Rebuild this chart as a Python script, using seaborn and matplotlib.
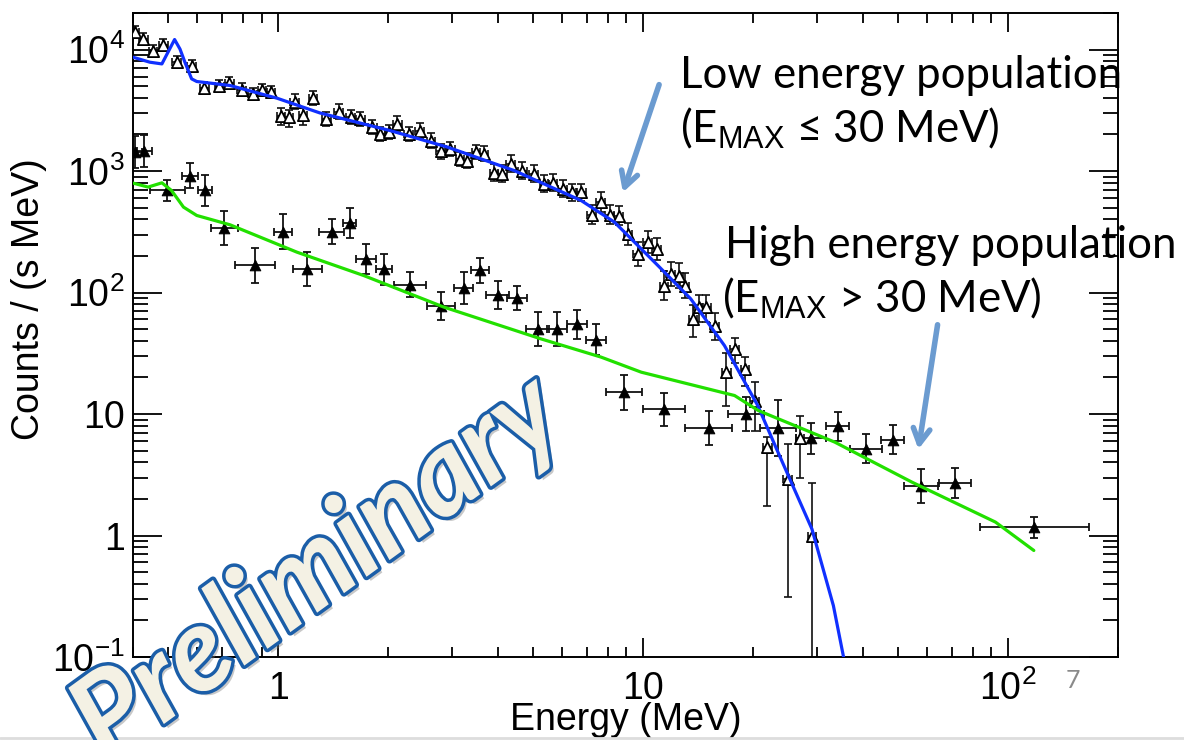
import numpy as np
import matplotlib
matplotlib.use('Agg')
import matplotlib.pyplot as plt
import matplotlib.patheffects as pe
from matplotlib.lines import Line2D
from matplotlib.ticker import LogLocator, NullFormatter
import seaborn as sns

# Low energy population (open triangles)
low_E = [0.405, 0.427, 0.454, 0.484, 0.527, 0.579, 0.627, 0.69, 0.735, 0.795, 0.852, 0.902,
         0.955, 1.017, 1.067, 1.11, 1.17, 1.245, 1.355, 1.465, 1.58, 1.68, 1.81, 1.905,
         2.01, 2.12, 2.28, 2.44, 2.62, 2.79, 2.96, 3.15, 3.30, 3.48, 3.66, 3.90, 4.11,
         4.33, 4.67, 5.01, 5.36, 5.65, 6.02, 6.37, 6.76, 7.23, 7.64, 8.09, 8.56,
         9.08, 9.67, 10.3, 10.9, 11.4, 11.9, 12.5, 13.0, 13.7, 14.2, 14.9, 15.7, 16.9,
         17.8, 19.0, 20.2, 21.9, 24.9, 26.9, 29.0]
low_C = [13900, 12200, 9800, 10900, 7870, 7300, 4810, 5000, 5320, 4690, 4320, 4660,
         4510, 2860, 2780, 3730, 2900, 3980, 2690, 3090, 2780, 2690, 2300, 2020,
         2090, 2450, 2020, 2150, 1780, 1450, 1520, 1260, 1220, 1430, 1390, 966, 948,
         1150, 1010, 948, 785, 800, 714, 670, 670, 437, 555, 437, 430,
         304, 208, 260, 229, 114, 143, 138, 114, 60.8, 76, 76, 53.5, 22.1,
         34.4, 23.5, 12.9, 5.4, 2.93, 6.34, 1.0]
# error bar extents in decades (down / up)
low_dn = [0.05, 0.05, 0.05, 0.05, 0.05, 0.05, 0.05, 0.05, 0.05, 0.05, 0.05, 0.05,
          0.05, 0.08, 0.08, 0.06, 0.08, 0.06, 0.06, 0.06, 0.06, 0.06, 0.06, 0.06,
          0.06, 0.06, 0.06, 0.06, 0.06, 0.06, 0.06, 0.06, 0.06, 0.06, 0.06, 0.07, 0.07,
          0.07, 0.07, 0.07, 0.07, 0.07, 0.07, 0.07, 0.07, 0.08, 0.08, 0.08, 0.08,
          0.09, 0.10, 0.09, 0.09, 0.12, 0.10, 0.10, 0.10, 0.15, 0.12, 0.12, 0.12, 0.28,
          0.12, 0.14, 0.25, 0.49, 0.97, 0.33, 3.0]
low_up = [0.05, 0.05, 0.05, 0.05, 0.05, 0.05, 0.05, 0.05, 0.05, 0.05, 0.05, 0.05,
          0.05, 0.06, 0.06, 0.06, 0.06, 0.06, 0.06, 0.06, 0.06, 0.06, 0.06, 0.06,
          0.06, 0.06, 0.06, 0.06, 0.06, 0.06, 0.06, 0.06, 0.06, 0.06, 0.06, 0.07, 0.07,
          0.07, 0.07, 0.07, 0.07, 0.07, 0.07, 0.07, 0.07, 0.08, 0.08, 0.08, 0.08,
          0.09, 0.10, 0.09, 0.09, 0.12, 0.10, 0.10, 0.10, 0.11, 0.10, 0.10, 0.10, 0.16,
          0.09, 0.10, 0.15, 0.08, 0.29, 0.18, 0.43]

# High energy population (filled triangles)
high_E = [0.405, 0.43, 0.496, 0.573, 0.63, 0.712, 0.865, 1.03, 1.20, 1.40, 1.57, 1.74,
          1.95, 2.30, 2.79, 3.22, 3.57, 3.99, 4.51, 5.14, 5.80, 6.59, 7.43, 8.85, 11.4,
          15.1, 19.1, 23.4, 28.8, 34.1, 40.8, 48.3, 57.8, 71.6, 118]
high_C = [1430, 1470, 692, 918, 692, 339, 167, 318, 155, 318, 373, 189,
          155, 116, 78, 109, 152, 96, 90, 50, 50, 55, 41, 15.1, 10.9,
          7.65, 10.0, 7.7, 6.3, 7.95, 5.17, 6.17, 2.58, 2.70, 1.17]
high_xw = [0.02, 0.02, 0.048, 0.023, 0.02, 0.037, 0.055, 0.024, 0.04, 0.035, 0.018, 0.027,
           0.023, 0.044, 0.039, 0.025, 0.024, 0.031, 0.027, 0.032, 0.027, 0.027, 0.027, 0.05, 0.057,
           0.065, 0.05, 0.05, 0.042, 0.032, 0.043, 0.032, 0.046, 0.044, 0.15]
high_yw = [0.13, 0.13, 0.09, 0.1, 0.125, 0.137, 0.144, 0.14, 0.14, 0.1, 0.125, 0.125,
           0.13, 0.105, 0.115, 0.13, 0.1, 0.115, 0.1, 0.14, 0.14, 0.12, 0.13, 0.144, 0.137,
           0.14, 0.137, 0.23, 0.13, 0.12, 0.12, 0.12, 0.14, 0.126, 0.087]

# Fit curves
blue_E = [0.40, 0.445, 0.48, 0.52, 0.538, 0.555, 0.579, 0.598, 0.738, 0.992, 1.30, 2.03,
          2.91, 4.43, 6.76, 8.34, 10.97, 13.5, 16.7, 20.6, 23.4, 29.0, 33.2, 35.4]
blue_C = [8650, 7870, 7620, 12100, 10100, 7870, 5740, 5460, 5060, 3980, 3010, 2150,
          1574, 1010, 572, 380, 167, 88.7, 36.6, 11.75, 4.86, 1.13, 0.265, 0.1]
green_E = [0.40, 0.44, 0.48, 0.51, 0.55, 0.598, 0.738, 1.125, 1.715, 2.84, 5.24, 7.67,
           9.88, 17.8, 20.65, 33.5, 54.5, 92.3, 117.6]
green_C = [796, 738, 800, 692, 505, 431, 361, 215, 138, 76, 41.6, 29.4,
           22.1, 14.2, 10.7, 5.87, 2.75, 1.29, 0.753]

x_ticks = [1, 10, 100]
x_labels = ['1', '10', '$10^{2}$']
y_ticks = [0.1, 1, 10, 100, 1000, 10000]
y_labels = ['$10^{-1}$', '1', '10', '$10^{2}$', '$10^{3}$', '$10^{4}$']

sns.set_theme(style='ticks')
plt.rcParams['font.family'] = ['Liberation Sans', 'DejaVu Sans']
plt.rcParams['mathtext.fontset'] = 'custom'
plt.rcParams['mathtext.rm'] = 'Liberation Sans'
plt.rcParams['mathtext.default'] = 'regular'

fig = plt.figure(figsize=(11.84, 7.4), dpi=100)
ax = fig.add_axes([133 / 1184, 1 - 657 / 740, 985 / 1184, 644 / 740])
ax.set_xscale('log')
ax.set_yscale('log')


def asym(vals, dn, up):
    v = np.array(vals)
    return [v - v * 10 ** (-np.array(dn)), v * 10 ** np.array(up) - v]


# error bars
ax.errorbar(low_E, low_C, yerr=asym(low_C, low_dn, low_up),
            xerr=asym(low_E, [0.012] * len(low_E), [0.012] * len(low_E)),
            fmt='none', ecolor='#111111', elinewidth=1.2, capsize=3, capthick=1.2, zorder=2)
ax.errorbar(high_E, high_C, yerr=asym(high_C, high_yw, high_yw),
            xerr=asym(high_E, high_xw, high_xw),
            fmt='none', ecolor='#111111', elinewidth=1.3, capsize=3, capthick=1.3, zorder=2)

# markers
sns.scatterplot(x=low_E, y=low_C, marker='^', color='white', edgecolor='black',
                linewidth=1.3, s=65, ax=ax, zorder=3)
sns.scatterplot(x=high_E, y=high_C, marker='^', color='black', edgecolor='black',
                s=60, ax=ax, zorder=3)

# fit curves
sns.lineplot(x=blue_E, y=blue_C, color='#1030ff', lw=2.3, sort=False, estimator=None, ax=ax, zorder=4)
sns.lineplot(x=green_E, y=green_C, color='#22e000', lw=2.3, sort=False, estimator=None, ax=ax, zorder=4)

ax.set_xlim(0.4, 200)
ax.set_ylim(0.1, 2e4)
ax.set_xticks(x_ticks)
ax.set_xticklabels(x_labels)
ax.set_yticks(y_ticks)
ax.set_yticklabels(y_labels)
ax.xaxis.set_minor_locator(LogLocator(base=10, subs=np.arange(2, 10), numticks=20))
ax.yaxis.set_minor_locator(LogLocator(base=10, subs=np.arange(2, 10), numticks=20))
ax.xaxis.set_minor_formatter(NullFormatter())
ax.yaxis.set_minor_formatter(NullFormatter())

ax.tick_params(which='both', direction='in', top=True, right=True, color='black', width=1.3,
               labelsize=27, labelcolor='black')
ax.tick_params(axis='y', which='major', length=21, pad=6)
ax.tick_params(axis='y', which='minor', length=10.5)
ax.tick_params(axis='x', which='major', length=14, pad=10)
ax.tick_params(axis='x', which='minor', length=7)
for sp in ax.spines.values():
    sp.set_color('black')
    sp.set_linewidth(1.4)

ax.set_xlabel('Energy (MeV)', fontsize=27, color='black')
ax.set_ylabel('Counts / (s MeV)', fontsize=27, color='black')
ax.xaxis.set_label_coords(0.50, -0.07)
ax.yaxis.set_label_coords(-0.087, 0.555)
ax.grid(False)

# annotations
ann_font = ['Lato', 'DejaVu Sans']
arrow_col = '#6b9bd0'
fig.text(680 / 1184, 1 - 75 / 740, 'Low energy population', fontsize=31.5, family=ann_font,
         ha='left', va='center', color='black')
fig.text(680 / 1184, 1 - 128 / 740, '(E$_{\\mathrm{MAX}}$ \u2264 30 MeV)', fontsize=31.5,
         family=ann_font, ha='left', va='center', color='black')
fig.text(725 / 1184, 1 - 245 / 740, 'High energy population', fontsize=31.5, family=ann_font,
         ha='left', va='center', color='black')
fig.text(722 / 1184, 1 - 298 / 740, '(E$_{\\mathrm{MAX}}$ > 30 MeV)', fontsize=31.5,
         family=ann_font, ha='left', va='center', color='black')

ax.annotate('', xy=(622 / 1184, 1 - 195 / 740), xytext=(660 / 1184, 1 - 82 / 740),
            xycoords='figure fraction', textcoords='figure fraction',
            arrowprops=dict(arrowstyle='->,head_length=0.9,head_width=0.5', color=arrow_col, lw=4))
ax.annotate('', xy=(918 / 1184, 1 - 452 / 740), xytext=(938 / 1184, 1 - 322 / 740),
            xycoords='figure fraction', textcoords='figure fraction',
            arrowprops=dict(arrowstyle='->,head_length=0.9,head_width=0.5', color=arrow_col, lw=4))

fig.text(1073 / 1184, 1 - 680 / 740, '7', fontsize=18, color='#8a8a8a', family=ann_font,
         ha='center', va='center')

# watermark
fig.text(318 / 1184, 1 - 570 / 740, 'Preliminary', rotation=36, fontsize=85,
         family=ann_font, style='italic', weight='bold', color='#f4f1e4',
         ha='center', va='center', rotation_mode='anchor', zorder=10,
         path_effects=[pe.SimplePatchShadow(offset=(3, -3), shadow_rgbFace='#777777', alpha=0.4),
                       pe.Stroke(linewidth=5, foreground='#1b5ea8'), pe.Normal()])

fig.add_artist(Line2D([0, 1], [0.003, 0.003], color='#dddddd', lw=2))

fig.savefig('out.png', dpi=100)
